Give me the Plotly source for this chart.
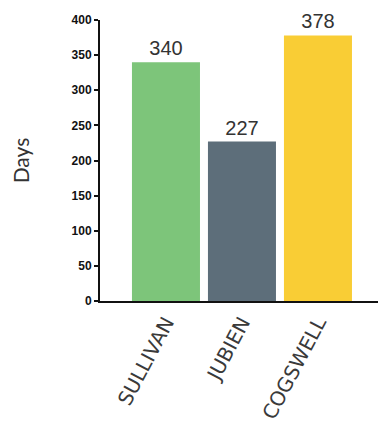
import plotly.graph_objects as go

names = ["SULLIVAN", "JUBIEN", "COGSWELL"]
days = [340, 227, 378]
bar_colors = ["#7dc57a", "#5d6e7a", "#f9cd35"]
y_ticks = [0, 50, 100, 150, 200, 250, 300, 350, 400]

fig = go.Figure(
    go.Bar(
        x=names,
        y=days,
        marker=dict(color=bar_colors, line=dict(width=0)),
        text=[str(v) for v in days],
        textposition="outside",
        textfont=dict(family="Liberation Sans, Arial, sans-serif", size=20, color="#333333"),
        cliponaxis=False,
    )
)

fig.update_layout(
    width=380,
    height=424,
    margin=dict(l=100, r=2, t=20, b=123),
    paper_bgcolor="white",
    plot_bgcolor="white",
    bargap=0.105,
    showlegend=False,
    xaxis=dict(
        range=[-0.868, 2.79],
        showline=True,
        linecolor="#111111",
        linewidth=2,
        ticks="",
        tickangle=-62,
        tickfont=dict(family="DejaVu Sans, sans-serif", size=20, color="#3a3a3a"),
        showgrid=False,
        zeroline=False,
    ),
    yaxis=dict(
        range=[0, 400],
        tickvals=y_ticks,
        showline=True,
        linecolor="#111111",
        linewidth=2,
        ticks="outside",
        ticklen=4,
        tickwidth=2,
        tickcolor="#111111",
        tickfont=dict(family="Liberation Sans, Arial, sans-serif", size=12, color="#111111", weight="bold"),
        showgrid=False,
        zeroline=False,
        title=dict(text="Days", font=dict(family="Lato, sans-serif", size=21, color="#333333"), standoff=36),
    ),
)

fig.write_html("out.html")
